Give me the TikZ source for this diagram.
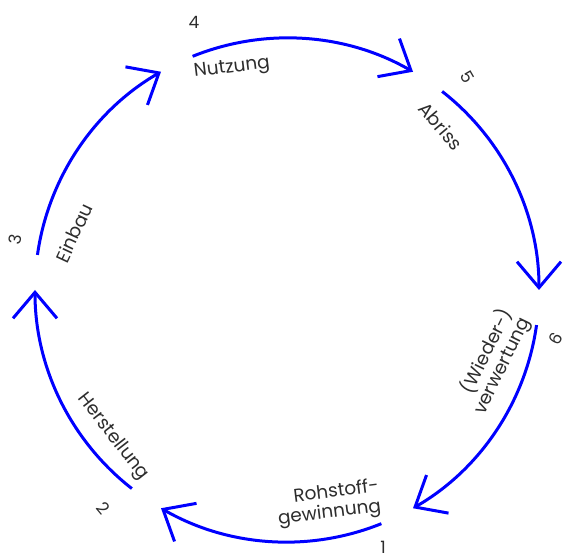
\documentclass[tikz,border=0pt]{standalone}
\usepackage{fontspec}
\setmainfont{Poppins}
\usetikzlibrary{arrows.meta}
\definecolor{cycblue}{RGB}{0,0,255}
\definecolor{txt}{RGB}{45,45,45}
\begin{document}
\begin{tikzpicture}[x=1pt,y=1pt,
  cyc/.style={draw=cycblue, line width=3pt, -{Straight Barb[length=26pt,width=44pt]}},
  lbl/.style={font=\fontsize{18.5}{20}\selectfont, text=txt, inner sep=0pt, align=right},
  num/.style={font=\fontsize{17}{18}\selectfont, text=txt, inner sep=0pt}]
\useasboundingbox (0,0) rectangle (568,559);
\coordinate (c) at (287,269);
\path (c) ++(112:252) coordinate (s4)
      (c) ++(52:252)  coordinate (s5)
      (c) ++(-8:252)  coordinate (s6)
      (c) ++(-68:252) coordinate (s1)
      (c) ++(-128:252) coordinate (s2)
      (c) ++(172:252) coordinate (s3);
\draw[cyc] (s4) arc[start angle=112, end angle=60, radius=252];
\draw[cyc] (s5) arc[start angle=52, end angle=0, radius=252];
\draw[cyc] (s6) arc[start angle=-8, end angle=-60, radius=252];
\draw[cyc] (s1) arc[start angle=-68, end angle=-120, radius=252];
\draw[cyc] (s2) arc[start angle=-128, end angle=-180, radius=252];
\draw[cyc] (s3) arc[start angle=172, end angle=120, radius=252];
% labels
\node[lbl, rotate=7, anchor=west] (nutz) at (194,486) {Nutzung};
\node[lbl, rotate=-50] (abr) at (441,433) {Abriss};
\node[lbl, rotate=64, anchor=east] (wied) at (516,245) {(Wieder-)\\verwertung};
\node[lbl, rotate=7, anchor=east] (roh) at (380,62) {Rohstoff-\\gewinnung};
\node[lbl, rotate=-52] (herst) at (113,122) {Herstellung};
\node[lbl, rotate=65] (einb) at (74,326) {Einbau};
% numbers
\node[num] (n4) at (194,537) {4};
\node[num, rotate=-60] (n5) at (467,482) {5};
\node[num, rotate=60] (n6) at (556,220) {6};
\node[num] (n1) at (383,12) {1};
\node[num, rotate=-50] (n2) at (103,51) {2};
\node[num, rotate=80] (n3) at (15,320) {3};
\end{tikzpicture}
\end{document}
